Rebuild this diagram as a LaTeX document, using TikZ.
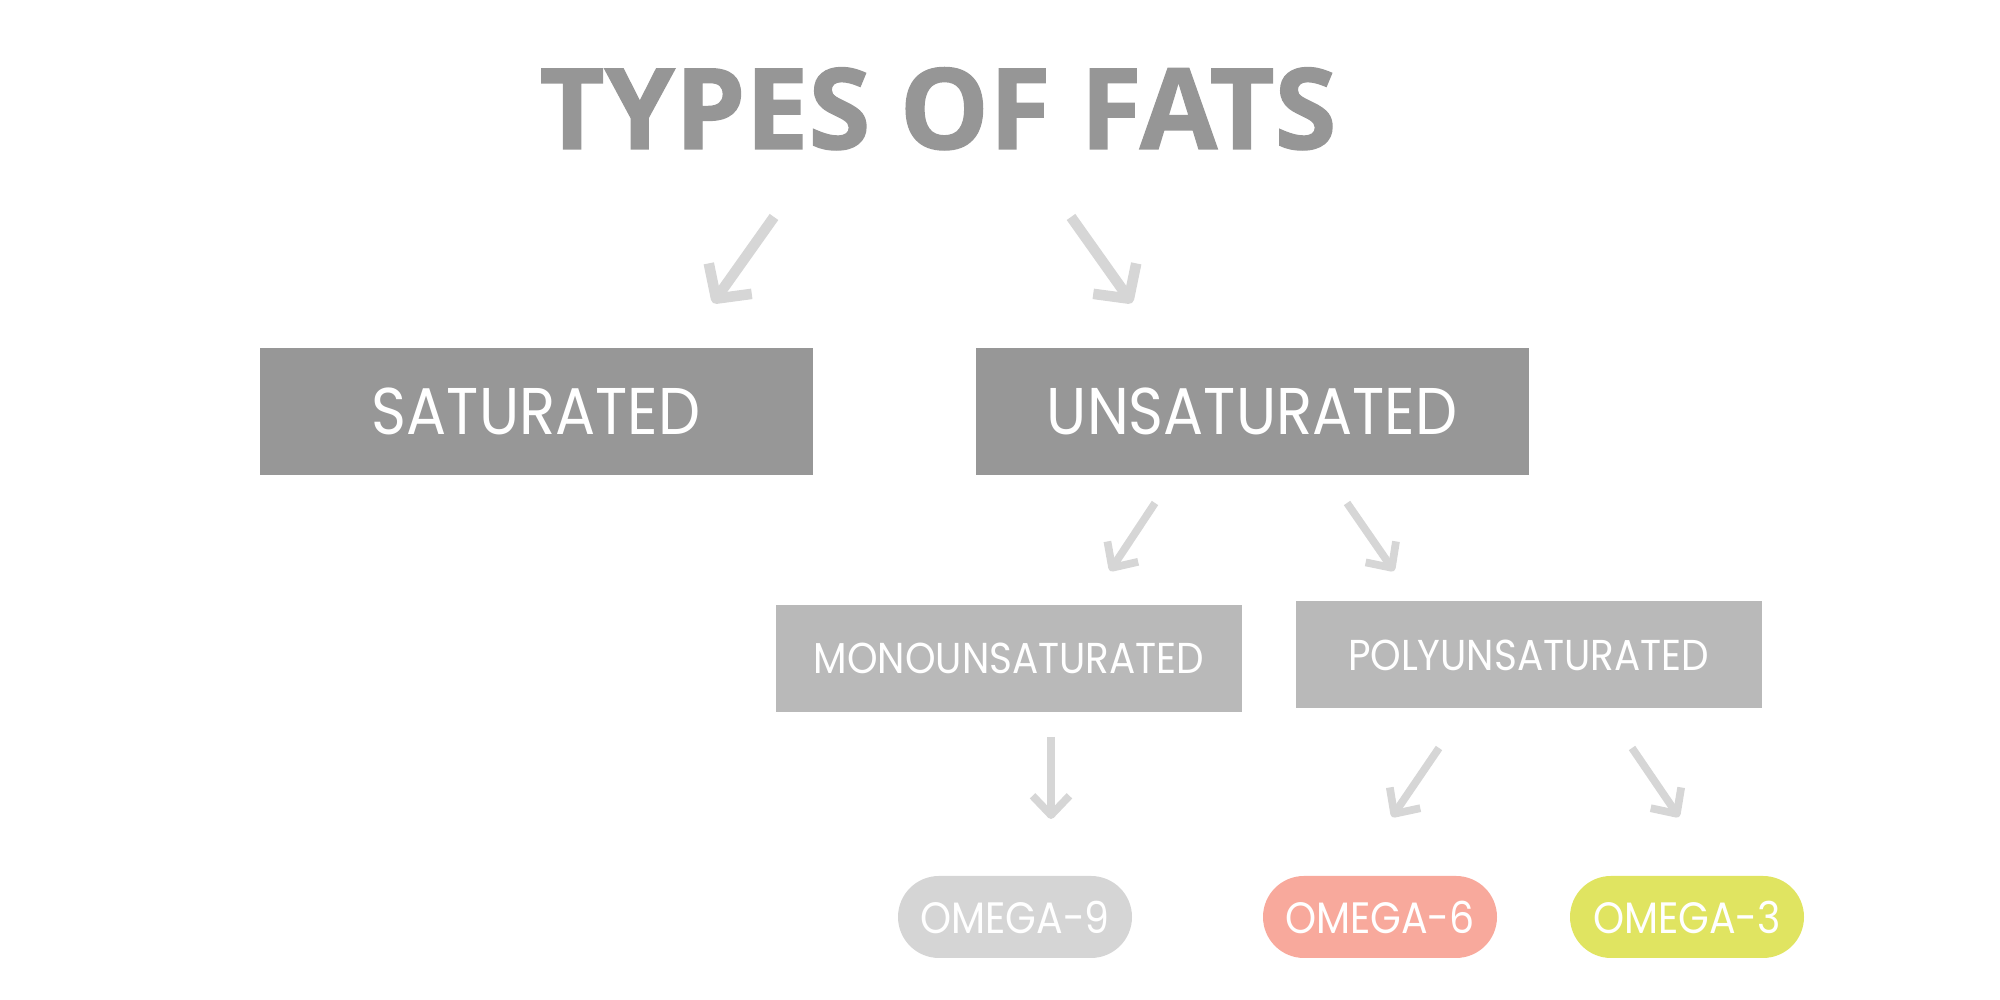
\documentclass[tikz,border=0pt]{standalone}
\usepackage{fontspec}
\usetikzlibrary{arrows.meta}
\newfontfamily\titlefont{Open Sans}[BoldFeatures={FakeBold=1.2}]
\newfontfamily\labelfont{Poppins}[FakeStretch=0.9]
\definecolor{titlegray}{HTML}{969696}
\definecolor{boxgray}{HTML}{979797}
\definecolor{subgray}{HTML}{B9B9B9}
\definecolor{arrowgray}{HTML}{D6D6D6}
\definecolor{omeganine}{HTML}{D5D5D5}
\definecolor{omegasix}{HTML}{F8A99C}
\definecolor{omegathree}{HTML}{E0E461}
\tikzset{
    fatbox/.style={rectangle, fill=boxgray, text=white, inner sep=0pt, minimum width=5.53cm, minimum height=1.27cm, font=\labelfont\fontsize{18.8}{22}\selectfont},
    subbox/.style={rectangle, fill=subgray, text=white, inner sep=0pt, minimum width=4.66cm, minimum height=1.07cm, font=\labelfont\fontsize{12.3}{14}\selectfont},
    pill/.style={rectangle, rounded corners=0.41cm, text=white, inner sep=0pt, minimum width=2.34cm, minimum height=0.82cm, font=\labelfont\fontsize{12.5}{14}\selectfont},
    bigarrow/.style={draw=arrowgray, line width=3pt, -{Straight Barb[length=7pt, width=15pt, line join=round, line cap=butt]}},
    smallarrow/.style={draw=arrowgray, line width=2.2pt, -{Straight Barb[length=5.5pt, width=10.5pt, line join=round, line cap=butt]}}
}
\begin{document}
\begin{tikzpicture}
        \useasboundingbox (0,0) rectangle (20,10);

        \node[anchor=base, text=titlegray, font=\titlefont\bfseries\fontsize{32}{38}\selectfont] (title) at (9.38,8.51) {TYPES OF FATS};

        \node[fatbox] (sat) at (5.36,5.885) {SATURATED};
        \node[fatbox] (unsat) at (12.52,5.885) {UNSATURATED};
        \node[subbox] (mono) at (10.09,3.415) {MONOUNSATURATED};
        \node[subbox] (poly) at (15.285,3.45) {POLYUNSATURATED};
        \node[pill, fill=omeganine] (nine) at (10.15,0.83) {OMEGA-9};
        \node[pill, fill=omegasix] (six) at (13.80,0.83) {OMEGA-6};
        \node[pill, fill=omegathree] (three) at (16.87,0.83) {OMEGA-3};

        \coordinate (satfrom) at (7.74,7.83);
        \coordinate (satto) at (7.13,6.97);
        \coordinate (unsatfrom) at (10.71,7.83);
        \coordinate (unsatto) at (11.32,6.97);
        \coordinate (monofrom) at (11.55,4.97);
        \coordinate (monoto) at (11.10,4.29);
        \coordinate (polyfrom) at (13.47,4.97);
        \coordinate (polyto) at (13.94,4.29);
        \coordinate (ninefrom) at (10.51,2.63);
        \coordinate (nineto) at (10.51,1.81);
        \coordinate (sixfrom) at (14.39,2.52);
        \coordinate (sixto) at (13.92,1.83);
        \coordinate (threefrom) at (16.32,2.52);
        \coordinate (threeto) at (16.79,1.83);

        \foreach \n in {sat,unsat}
            \draw[bigarrow] (\n from) -- (\n to);
        \foreach \n in {mono,poly,nine,six,three}
            \draw[smallarrow] (\n from) -- (\n to);
\end{tikzpicture}
\end{document}
